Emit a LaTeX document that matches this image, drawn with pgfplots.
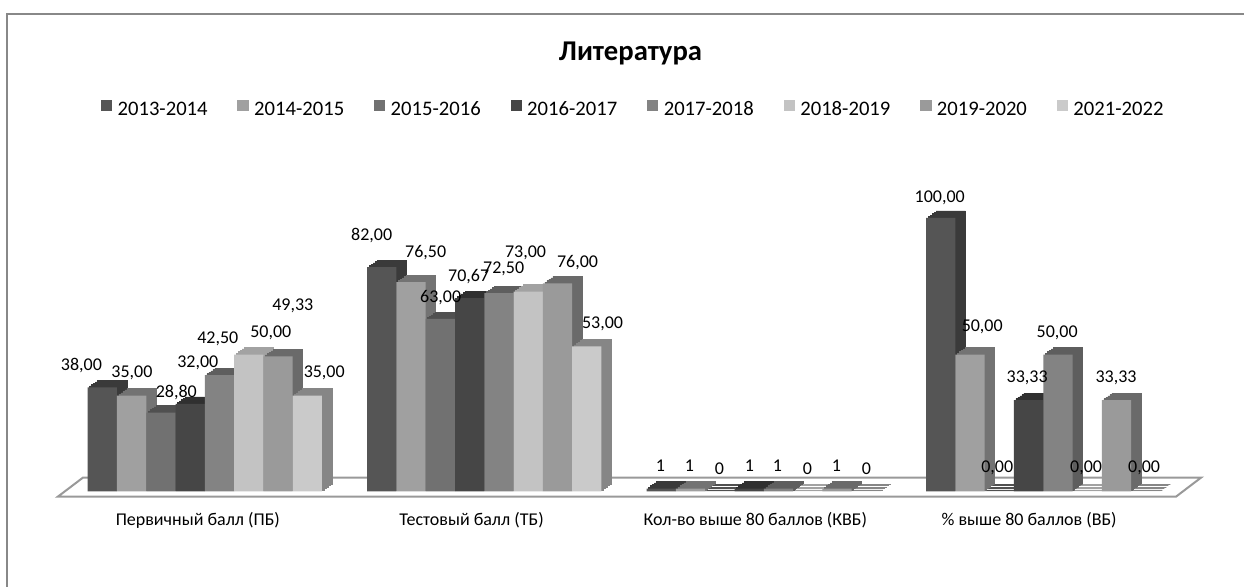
\documentclass[border=0pt]{standalone}
\usepackage{fontspec}
\setmainfont{Carlito}
\usepackage{pgfplots}
\usepackage{pgfplotstable}
\pgfplotsset{compat=1.18}

\definecolor{fA}{HTML}{555555} \definecolor{sA}{HTML}{3A3A3A}
\definecolor{fB}{HTML}{A0A0A0} \definecolor{sB}{HTML}{737373}
\definecolor{fC}{HTML}{717171} \definecolor{sC}{HTML}{505050}
\definecolor{fD}{HTML}{464646} \definecolor{sD}{HTML}{303030}
\definecolor{fE}{HTML}{838383} \definecolor{sE}{HTML}{5E5E5E}
\definecolor{fF}{HTML}{C3C3C3} \definecolor{sF}{HTML}{A2A2A2}
\definecolor{fG}{HTML}{9A9A9A} \definecolor{sG}{HTML}{6A6A6A}
\definecolor{fH}{HTML}{CACACA} \definecolor{sH}{HTML}{868686}
\definecolor{bordergray}{HTML}{888888}
\definecolor{floorgray}{HTML}{999999}

% series: g = category (0..3), y = value
\pgfplotstableread{
g y
0 38.00
1 82.00
2 1
3 100.00
}\tA
\pgfplotstableread{
g y
0 35.00
1 76.50
2 1
3 50.00
}\tB
\pgfplotstableread{
g y
0 28.80
1 63.00
2 0
3 0.00
}\tC
\pgfplotstableread{
g y
0 32.00
1 70.67
2 1
3 33.33
}\tD
\pgfplotstableread{
g y
0 42.50
1 72.50
2 1
3 50.00
}\tE
\pgfplotstableread{
g y
0 50.00
1 73.00
2 0
3 0.00
}\tF
\pgfplotstableread{
g y
0 49.33
1 76.00
2 1
3 33.33
}\tG
\pgfplotstableread{
g y
0 35.00
1 53.00
2 0
3 0.00
}\tH

% data label positions (as placed in the original chart)
\pgfplotstableread{
x y t
-0.4416 45.93 38,00
-0.2610 43.37 35,00
-0.1020 36.06 28,80
-0.0250 47.02 32,00
0.0465 55.80 42,50
0.2360 57.99 50,00
0.3146 67.85 49,33
0.4272 43.37 35,00
0.5971 93.42 82,00
0.7903 87.21 76,50
0.8438 70.76 63,00
0.9439 78.44 70,67
1.0691 81.36 72,50
1.1477 87.21 73,00
1.3336 83.56 76,00
1.4230 61.27 53,00
1.6303 9.39 1
1.7340 9.39 1
1.8413 8.29 0
1.9485 9.39 1
2.0486 9.39 1
2.1559 8.29 0
2.2596 9.39 1
2.3669 8.29 0
2.6296 107.23 100,00
2.7816 60.10 50,00
2.8352 8.66 0,00
2.9425 41.54 33,33
3.0497 57.98 50,00
3.1534 8.66 0,00
3.2606 41.54 33,33
3.3608 8.66 0,00
}\tL

\newcommand\bk[4]{%
\addplot[ybar, bar width=0.1048, bar shift=0pt, fill=#3, draw=#3, line width=0.4pt, forget plot,
  xshift=#4*1.5pt, yshift=#4*1.05pt] table[x expr=\thisrow{g}+#2, y=y]{#1};}
\newcommand\back[3]{\bk{#1}{#2}{#3}{5}\bk{#1}{#2}{#3}{4}\bk{#1}{#2}{#3}{3}\bk{#1}{#2}{#3}{2}\bk{#1}{#2}{#3}{1}}
\newcommand\front[3]{%
\addplot[ybar, bar width=0.1048, bar shift=0pt, fill=#3, draw=none] table[x expr=\thisrow{g}+#2, y=y]{#1};}

\begin{document}
\begin{tikzpicture}
\path (0,0) rectangle (933.75pt,440.25pt);
\draw[color=bordergray, line width=1.5pt] (5.6pt,0pt) -- (5.6pt,429.75pt) -- (933.75pt,429.75pt);
\node[font=\bfseries\fontsize{21.5}{24}\selectfont, anchor=base, inner sep=0pt] at (473.25pt,394.7pt) {Литература};
\begin{axis}[
  set layers,
  at={(48.86pt,71.48pt)}, anchor=south west,
  scale only axis, width=839.1pt, height=205.28pt,
  xmin=-0.5, xmax=3.5, ymin=0, ymax=100,
  clip=false,
  axis line style={draw=none},
  ytick=\empty,
  major tick length=0pt,
  xtick={-0.025,0.9546,1.970,2.9496},
  xticklabels={Первичный балл (ПБ), Тестовый балл (ТБ), Кол-во выше 80 баллов (КВБ), \% выше 80 баллов (ВБ)},
  xticklabel style={font=\fontsize{13.5}{16}\selectfont, anchor=base, yshift=-26pt, inner sep=0pt},
  legend columns=8,
  legend style={at={(0.5085,1.395)}, anchor=center, draw=none, fill=none,
    font=\fontsize{15.5}{18}\selectfont,
    /tikz/every odd column/.append style={column sep=2pt},
    /tikz/every even column/.append style={column sep=20.4pt}},
  legend image code/.code={\fill[#1] (0pt,-0.6pt) rectangle (8.5pt,7.6pt);},
]
\draw[on layer=axis background, floorgray, line width=1.5pt, fill=white]
  (axis cs:-0.5256,-1.94) -- (axis cs:3.4752,-1.94) -- (axis cs:3.5646,5.00) -- (axis cs:-0.4361,5.00) -- cycle;

\back{\tA}{-0.3668}{sA}
\back{\tB}{-0.2620}{sB}
\back{\tC}{-0.1572}{sC}
\back{\tD}{-0.0524}{sD}
\back{\tE}{0.0524}{sE}
\back{\tF}{0.1572}{sF}
\back{\tG}{0.2620}{sG}
\back{\tH}{0.3668}{sH}

\front{\tA}{-0.3668}{fA}\addlegendentry{2013-2014}
\front{\tB}{-0.2620}{fB}\addlegendentry{2014-2015}
\front{\tC}{-0.1572}{fC}\addlegendentry{2015-2016}
\front{\tD}{-0.0524}{fD}\addlegendentry{2016-2017}
\front{\tE}{0.0524}{fE}\addlegendentry{2017-2018}
\front{\tF}{0.1572}{fF}\addlegendentry{2018-2019}
\front{\tG}{0.2620}{fG}\addlegendentry{2019-2020}
\front{\tH}{0.3668}{fH}\addlegendentry{2021-2022}

\addplot[draw=none, mark=none, forget plot, nodes near coords, point meta=explicit symbolic,
  every node near coord/.style={anchor=center, inner sep=0pt, font=\fontsize{13.5}{16}\selectfont}]
  table[x=x, y=y, meta=t]{\tL};
\end{axis}
\end{tikzpicture}
\end{document}
